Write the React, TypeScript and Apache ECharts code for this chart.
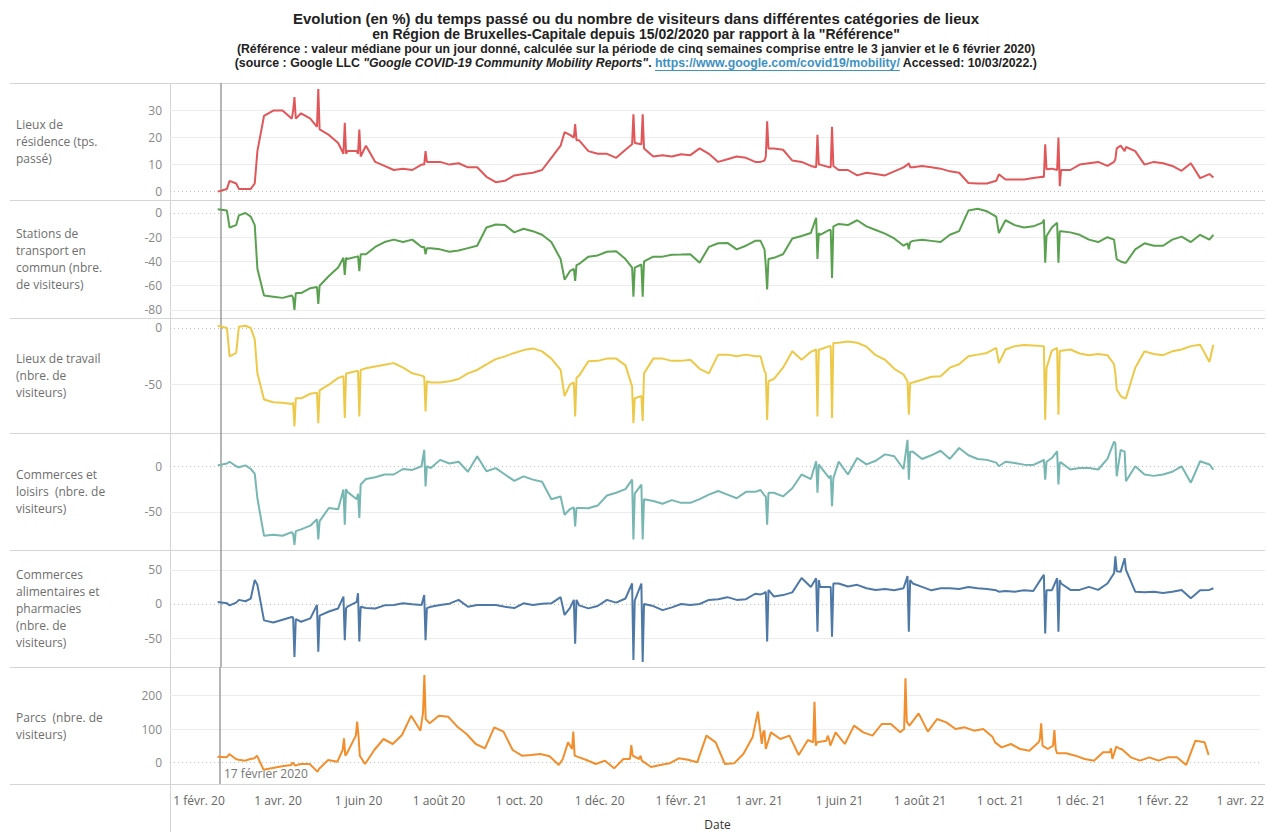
import React, { useEffect, useRef } from 'react';
import * as echarts from 'echarts';

// ---------- DATA ----------
const dates: string[] = [
  '2020-02-15', '2020-02-22', '2020-02-24', '2020-02-29', '2020-03-02', '2020-03-07', '2020-03-11', '2020-03-14', '2020-03-16', '2020-03-21',
  '2020-03-28', '2020-04-04', '2020-04-11', '2020-04-12', '2020-04-13', '2020-04-14', '2020-04-18', '2020-04-25', '2020-04-30', '2020-05-01',
  '2020-05-02', '2020-05-09', '2020-05-16', '2020-05-20', '2020-05-21', '2020-05-22', '2020-05-23', '2020-05-30', '2020-05-31', '2020-06-01',
  '2020-06-02', '2020-06-06', '2020-06-13', '2020-06-20', '2020-06-27', '2020-07-04', '2020-07-11', '2020-07-18', '2020-07-20', '2020-07-21',
  '2020-07-22', '2020-07-25', '2020-08-01', '2020-08-08', '2020-08-15', '2020-08-22', '2020-08-29', '2020-09-05', '2020-09-12', '2020-09-19',
  '2020-09-26', '2020-10-03', '2020-10-10', '2020-10-17', '2020-10-24', '2020-10-31', '2020-11-03', '2020-11-07', '2020-11-10', '2020-11-11',
  '2020-11-12', '2020-11-14', '2020-11-21', '2020-11-28', '2020-12-05', '2020-12-12', '2020-12-19', '2020-12-24', '2020-12-25', '2020-12-26',
  '2020-12-31', '2021-01-01', '2021-01-02', '2021-01-09', '2021-01-16', '2021-01-23', '2021-01-30', '2021-02-06', '2021-02-13', '2021-02-20',
  '2021-02-27', '2021-03-06', '2021-03-13', '2021-03-20', '2021-03-27', '2021-03-31', '2021-04-03', '2021-04-04', '2021-04-05', '2021-04-06',
  '2021-04-10', '2021-04-17', '2021-04-24', '2021-05-01', '2021-05-08', '2021-05-12', '2021-05-13', '2021-05-14', '2021-05-15', '2021-05-22',
  '2021-05-23', '2021-05-24', '2021-05-25', '2021-05-29', '2021-06-05', '2021-06-12', '2021-06-19', '2021-06-26', '2021-07-03', '2021-07-10',
  '2021-07-17', '2021-07-20', '2021-07-21', '2021-07-22', '2021-07-24', '2021-07-31', '2021-08-07', '2021-08-14', '2021-08-21', '2021-08-28',
  '2021-09-04', '2021-09-11', '2021-09-18', '2021-09-25', '2021-09-27', '2021-10-02', '2021-10-09', '2021-10-16', '2021-10-23', '2021-10-30',
  '2021-10-31', '2021-11-01', '2021-11-02', '2021-11-06', '2021-11-10', '2021-11-11', '2021-11-12', '2021-11-13', '2021-11-20', '2021-11-27',
  '2021-12-04', '2021-12-11', '2021-12-18', '2021-12-23', '2021-12-24', '2021-12-25', '2021-12-28', '2021-12-31', '2022-01-01', '2022-01-08',
  '2022-01-15', '2022-01-22', '2022-01-29', '2022-02-05', '2022-02-12', '2022-02-19', '2022-02-26', '2022-03-05', '2022-03-08',
];

const residence: number[] = [
  0, 1, 4, 3, 1, 1, 1, 3, 15, 28,
  30, 30, 27, 30, 35, 27, 29, 27, 24, 38,
  23, 21, 18, 14, 25.5, 14, 15, 15, 14, 23,
  13, 17, 11, 9.5, 8, 8.5, 8, 10, 10, 15,
  11, 11, 11, 10, 10.5, 9, 9, 5.5, 3.5, 4,
  6, 6.5, 7, 8, 12.5, 17, 22, 21, 20, 25,
  19, 19, 15, 14, 14, 12.5, 15.5, 17.5, 28.6, 18,
  17.5, 28.6, 16, 13, 13.5, 13, 13.8, 13.5, 16, 14,
  11, 12, 13, 12.5, 11, 11, 11.5, 13, 26, 16,
  16, 15.5, 11.5, 11, 9.5, 9, 21, 10, 10, 9,
  9, 24, 9.5, 8, 8, 6, 7, 6.5, 6, 7.5,
  9, 10, 10.5, 9, 9, 9.5, 9, 8.5, 7.5, 7,
  3.2, 3, 3, 4, 6.4, 4.5, 4.5, 4.5, 5, 5.5,
  5.4, 17.5, 8.3, 8.5, 8, 20, 2, 8, 8, 10,
  10.5, 11, 9.5, 11, 12, 16, 17, 15, 16.5, 15,
  10, 11, 10.5, 9.5, 7.7, 10.5, 5, 6.5, 5.2,
];

const transit: number[] = [
  3, 2, -12, -10, -2, 0, -3, -10, -46, -68,
  -69, -70, -68, -70, -80, -66, -66, -62, -61, -75,
  -60, -52, -45, -37, -51, -37, -38, -36, -35.7, -48,
  -34, -34, -28, -24, -22, -24, -22, -28, -28, -34,
  -29, -29, -30, -32, -31, -29, -27, -12, -9.5, -10,
  -16, -13, -15, -18, -24, -38, -55, -48, -46, -56,
  -43, -42, -36, -35, -32, -31.5, -38, -45, -69, -45,
  -42.5, -69, -40, -36, -36, -34.5, -34.3, -34, -41, -28,
  -25, -24.7, -30, -27, -23, -23, -30, -44, -63, -38,
  -37, -34, -21, -19, -16.5, -4, -38, -16.5, -18, -14,
  -14, -53.5, -11, -9, -10, -6, -11, -14, -17, -21,
  -27, -25, -30, -24, -23, -22, -23, -24, -18, -15,
  2, 3.5, 1.4, -3, -16.5, -6, -10, -12, -11, -8,
  -5.5, -41, -19, -12, -8, -41, -15, -15, -16, -18,
  -22, -24, -20, -22, -30, -38, -40, -41, -41, -30,
  -25, -27, -27, -22, -19.5, -24, -18, -22, -18,
];

const workplaces: number[] = [
  2, 0, -25, -22, 1, 2, 0, -10, -40, -63,
  -65.5, -66, -67, -66, -86.8, -62, -62, -58, -57, -84,
  -55, -50, -44, -42.6, -79.4, -40, -40, -38, -38, -78,
  -37, -35.5, -34, -32.5, -31, -35, -40, -42, -43, -73.5,
  -47, -48, -48, -47, -45, -40, -37, -32, -27.5, -25,
  -22, -19.5, -18, -20.6, -27, -37, -60, -50, -48, -78,
  -44, -42, -29.4, -29, -27, -27, -33, -51.5, -84, -62,
  -60, -82, -40, -27, -27, -29, -29, -28, -36, -40,
  -23.5, -23.5, -25, -23.5, -25, -25, -38, -40, -81, -47,
  -45, -35, -20.6, -28, -21, -19, -78, -19, -19, -16,
  -16, -79.4, -13.2, -13, -12, -13, -16.5, -24, -28, -36,
  -41, -47, -76.5, -48.5, -48, -45.6, -43, -42.6, -35, -32,
  -25, -23.5, -22, -17.6, -31, -19, -16, -15, -15.5, -16,
  -16, -81, -35.3, -20, -17.6, -76.5, -20, -20, -19, -22.5,
  -24, -23, -24, -32, -40, -54, -60, -62, -62, -35,
  -20.6, -23, -24, -20.6, -19, -16, -14.7, -30, -14.7,
];

const retail: number[] = [
  1, 3, 5, 0, -1, 1, -3, -8, -35, -76,
  -75, -76, -72, -74, -86, -71, -69, -65, -58, -80,
  -60, -45.6, -47, -25.5, -64, -25, -28, -36, -30, -56.6,
  -20, -14, -12, -9, -9, -3, -4, 0, 18, -22,
  0, -2, 7, 3, 5, -6, 11, -5.5, -2, -9,
  -16, -11, -14.6, -17, -36, -33, -53, -47, -45, -65.7,
  -45.6, -45.6, -46, -43, -32, -29, -25, -14.6, -80, -30,
  -20, -80, -36, -38, -41, -37, -40, -40, -36, -31,
  -27, -31, -35, -28, -28, -26, -32, -33, -64, -29,
  -29, -33, -24, -9, -14, 5.5, -29, 2, 0, -13,
  -10, -43.8, -13, 5, -9, 9, 2, 6, 13, 11,
  -3, 29, -14.6, 16, 16, 8, 12, 17, 8, 20,
  12, 8, 7, 4, 0, 5, 3.5, 1.8, 1.5, 6,
  7.3, -14.6, 5, 9, 16.4, -20, 4, 4, -3.6, -2,
  -2, -3.5, 8, 27, 25, -11, 18, 16, -16.4, 0,
  -9, -10.5, -9, -6, 0, -18, 5.5, 2, -3.6,
];

const grocery: number[] = [
  3, 1, -2, 2, 6, 4, 8, 35, 28, -24,
  -27, -23, -19, -20, -77.5, -22, -26, -21, -1.5, -70,
  -17, -11, -6.5, 10.8, -53, -6, -4, 3, 15.7, -55,
  -4, -6, -6.5, -2, -1.5, 1, -0.5, -1.5, 13, -53,
  -6, -4, -1.5, 0.5, 6, -4, -1.5, -1.5, -1.5, -4,
  -6, 1, -1.5, 0.5, 1, 10, -16, -6, 6, -58,
  6, -2, -6.4, -3, 6, 2, 8, 30, -82, 5,
  30, -85, 0, -3, -9, -5, 0, -1.5, 0, 6,
  7, 10, 6, 7, 15, 14, 16, 18, -55, 20.6,
  11, 13, 17, 38, 25, 37.7, -40.7, 35, 25, 25,
  25, -48, 30, 30, 25.5, 28, 23, 20.6, 22, 20,
  23, 41, -40.7, 35, 30, 25, 20, 23, 23, 22,
  25, 23, 22, 20, 18, 19, 18, 20, 19, 40,
  42.6, -43, 20, 20, 37.7, -40.7, 35, 30, 20.6, 20.6,
  25, 20.6, 30, 45, 69.6, 48, 47, 67, 50, 18,
  17, 18, 16, 18, 20.6, 8.3, 20, 20.6, 23,
];

const parks: number[] = [
  17, 15, 25, 10, 8, 5, 10, 12, 20, -22,
  -17, -12, -8, 0, -5, -10, -5, -5, -25, -28,
  -20, 7, 2, 37, 72, 20, 25, 80, 122, 80,
  20, -5, 37, 70, 55, 82, 140, 95, 150, 262,
  130, 117, 140, 137, 107, 85, 55, 42, 105, 92,
  37, 20, 22, 25, 18, -8, 10, 60, 40, 92,
  20, 17, 7, -5, 5, -18, 10, 10, 52, 20,
  10, 20, 5, -14, -8, -3, 12, 8, 0, 80,
  60, -5, -3, 25, 75, 152, 55, 90, 95, 40,
  90, 70, 80, 22, 67, 60, 182, 50, 60, 65,
  80, 70, 50, 90, 55, 110, 90, 80, 115, 115,
  90, 100, 252, 122, 110, 147, 92, 130, 120, 100,
  105, 95, 100, 77, 60, 45, 55, 40, 35, 60,
  70, 117, 50, 40, 50, 97, 40, 27, 27, 20,
  10, 5, 30, 30, 42, 10, 47, 40, 40, 15,
  5, 15, 5, 15, 15, -8, 65, 60, 22,
];

const yTicksResidence = [0, 10, 20, 30];
const yTicksTransit = [0, -20, -40, -60, -80];
const yTicksWork = [0, -50];
const yTicksRetail = [0, -50];
const yTicksGrocery = [50, 0, -50];
const yTicksParks = [200, 100, 0];

const xTickDates = [
  '2020-02-01', '2020-04-01', '2020-06-01', '2020-08-01', '2020-10-01', '2020-12-01', '2021-02-01',
  '2021-04-01', '2021-06-01', '2021-08-01', '2021-10-01', '2021-12-01', '2022-02-01', '2022-04-01',
];
const xTickLabels = [
  '1 févr. 20', '1 avr. 20', '1 juin 20', '1 août 20', '1 oct. 20', '1 déc. 20', '1 févr. 21',
  '1 avr. 21', '1 juin 21', '1 août 21', '1 oct. 21', '1 déc. 21', '1 févr. 22', '1 avr. 22',
];
const xMinDate = '2020-01-10';
const xMaxDate = '2022-04-16';
const referenceDate = '2020-02-17';
const referenceLabel = '17 février 2020';

const titleLine1 = 'Evolution (en %) du temps passé ou du nombre de visiteurs dans différentes catégories de lieux';
const titleLine2 = 'en Région de Bruxelles-Capitale depuis 15/02/2020 par rapport à la "Référence"';
const titleLine3 = '(Référence : valeur médiane pour un jour donné, calculée sur la période de cinq semaines comprise entre le 3 janvier et le 6 février 2020)';
const sourceParts = [
  { text: '(source : Google LLC ', kind: 'n' },
  { text: '"Google COVID-19 Community Mobility Reports"', kind: 'i' },
  { text: '. ', kind: 'n' },
  { text: 'https://www.google.com/covid19/mobility/', kind: 'u' },
  { text: ' Accessed: 10/03/2022.)', kind: 'n' },
];

// ---------- LAYOUT / STYLE ----------
const panels = [
  { label: 'Lieux de\nrésidence (tps.\npassé)', values: residence, ticks: yTicksResidence, color: '#e15759', min: -3.1, max: 40.2, top: 83, height: 117 },
  { label: 'Stations de\ntransport en\ncommun (nbre.\nde visiteurs)', values: transit, ticks: yTicksTransit, color: '#59a14f', min: -86.6, max: 10.7, top: 200, height: 118 },
  { label: 'Lieux de travail\n(nbre. de\nvisiteurs)', values: workplaces, ticks: yTicksWork, color: '#edc948', min: -92.6, max: 8.8, top: 318, height: 115 },
  { label: 'Commerces et\nloisirs  (nbre. de\nvisiteurs)', values: retail, ticks: yTicksRetail, color: '#76b7b2', min: -91.6, max: 36.4, top: 433, height: 117 },
  { label: 'Commerces\nalimentaires et\npharmacies\n(nbre. de\nvisiteurs)', values: grocery, ticks: yTicksGrocery, color: '#4e79a7', min: -92.2, max: 79, top: 550, height: 117 },
  { label: 'Parcs  (nbre. de\nvisiteurs)', values: parks, ticks: yTicksParks, color: '#f28e2b', min: -65, max: 286, top: 667, height: 117 },
];

const PLOT_LEFT = 170;
const PLOT_RIGHT = 1265;
const SANS = '"Open Sans", "Noto Sans", sans-serif';
const TITLE_FONT = '"Liberation Sans", Arial, sans-serif';

const parseDay = (s: string) => {
  const [y, m, d] = s.split('-').map(Number);
  return new Date(y, m - 1, d).getTime();
};

export default function App() {
  const ref = useRef<HTMLDivElement>(null);

  useEffect(() => {
    if (!ref.current) return;
    const chart = echarts.init(ref.current, undefined, { renderer: 'svg' });

    const canvas = document.createElement('canvas');
    const ctx = canvas.getContext('2d')!;
    const measure = (t: string, font: string) => {
      ctx.font = font;
      return ctx.measureText(t).width;
    };

    const xMin = parseDay(xMinDate);
    const xMax = parseDay(xMaxDate);
    const xTicks = xTickDates.map(parseDay);
    const refX = parseDay(referenceDate);
    const dayTs = dates.map(parseDay);

    const grids = panels.map((p) => ({ left: PLOT_LEFT, width: PLOT_RIGHT - PLOT_LEFT, top: p.top, height: p.height }));
    const xAxes = panels.map((p, i) => ({
      gridIndex: i,
      type: 'value',
      min: xMin,
      max: xMax,
      show: i === panels.length - 1,
      axisLine: { show: false },
      axisTick: { show: false },
      splitLine: { show: false },
      axisLabel: {
        customValues: xTicks,
        formatter: (v: number) => {
          const k = xTicks.findIndex((t) => Math.abs(t - v) < 43200000);
          return k >= 0 ? xTickLabels[k] : '';
        },
        color: '#666',
        fontSize: 12,
        fontFamily: SANS,
        margin: 10,
        hideOverlap: false,
      },
    }));
    const yAxes = panels.map((p, i) => ({
      gridIndex: i,
      type: 'value',
      min: p.min,
      max: p.max,
      axisLine: { show: false },
      axisTick: { show: false },
      splitLine: { show: false },
      axisLabel: {
        customValues: p.ticks,
        color: '#888',
        fontSize: 12,
        fontFamily: SANS,
        margin: 8,
      },
    }));
    const series = panels.map((p, i) => ({
      type: 'line',
      xAxisIndex: i,
      yAxisIndex: i,
      z: 3,
      data: dayTs.map((t, k) => [t, p.values[k]]),
      showSymbol: false,
      symbol: 'none',
      lineStyle: { color: p.color, width: 2 },
      itemStyle: { color: p.color },
      emphasis: { disabled: true },
      markLine: {
        silent: true,
        z: 1,
        symbol: 'none',
        label: { show: false },
        data: [
          ...p.ticks.filter((t) => t !== 0).map((t) => ({ yAxis: t, lineStyle: { color: '#ececec', type: 'solid', width: 1 } })),
          { yAxis: 0, lineStyle: { color: '#bdbdbd', type: [1, 3], width: 1 } },
          { xAxis: refX, lineStyle: { color: '#9c9c9c', type: 'solid', width: 1.5 } },
        ],
      },
    }));

    const graphic: any[] = [];
    const seps = [...panels.map((p) => p.top), panels[panels.length - 1].top + panels[panels.length - 1].height];
    seps.forEach((y) => {
      graphic.push({ type: 'line', silent: true, z: 0, shape: { x1: 10, y1: y + 0.5, x2: PLOT_RIGHT, y2: y + 0.5 }, style: { stroke: '#d4d4d4', lineWidth: 1 } });
    });
    graphic.push({ type: 'line', silent: true, z: 0, shape: { x1: PLOT_LEFT + 0.5, y1: 83, x2: PLOT_LEFT + 0.5, y2: 832 }, style: { stroke: '#d4d4d4', lineWidth: 1 } });

    panels.forEach((p) => {
      graphic.push({
        type: 'text', silent: true, x: 16, y: p.top + p.height / 2,
        style: { text: p.label, font: `12px ${SANS}`, fill: '#6e6e6e', lineHeight: 17, align: 'left', verticalAlign: 'middle', textAlign: 'left', textVerticalAlign: 'middle' },
      });
    });

    graphic.push({
      type: 'text', silent: true, x: 224, y: 773,
      style: { text: referenceLabel, font: `12px ${SANS}`, fill: '#777', align: 'left', verticalAlign: 'middle', textAlign: 'left', textVerticalAlign: 'middle' },
    });
    graphic.push({
      type: 'text', silent: true, x: (PLOT_LEFT + PLOT_RIGHT) / 2, y: 824,
      style: { text: 'Date', font: `12px ${SANS}`, fill: '#333', align: 'center', verticalAlign: 'middle', textAlign: 'center', textVerticalAlign: 'middle' },
    });

    const cx = 636;
    const titleRows = [
      { text: titleLine1, font: `bold 15px ${TITLE_FONT}`, y: 18 },
      { text: titleLine2, font: `bold 14px ${TITLE_FONT}`, y: 34 },
      { text: titleLine3, font: `bold 12.3px ${TITLE_FONT}`, y: 48.5 },
    ];
    titleRows.forEach((r) => {
      graphic.push({
        type: 'text', silent: true, x: cx, y: r.y,
        style: { text: r.text, font: r.font, fill: '#222', align: 'center', verticalAlign: 'middle', textAlign: 'center', textVerticalAlign: 'middle' },
      });
    });
    const fonts: Record<string, string> = {
      n: `bold 12.3px ${TITLE_FONT}`,
      i: `italic bold 12.3px ${TITLE_FONT}`,
      u: `bold 12.3px ${TITLE_FONT}`,
    };
    const widths = sourceParts.map((s) => measure(s.text, fonts[s.kind]));
    const total = widths.reduce((a, b) => a + b, 0);
    let xCur = cx - total / 2;
    const y4 = 63;
    sourceParts.forEach((s, k) => {
      graphic.push({
        type: 'text', silent: true, x: xCur, y: y4,
        style: { text: s.text, font: fonts[s.kind], fill: s.kind === 'u' ? '#3d91c4' : '#222', align: 'left', verticalAlign: 'middle', textAlign: 'left', textVerticalAlign: 'middle' },
      });
      if (s.kind === 'u') {
        graphic.push({ type: 'line', silent: true, shape: { x1: xCur, y1: y4 + 7.5, x2: xCur + widths[k], y2: y4 + 7.5 }, style: { stroke: '#3d91c4', lineWidth: 1 } });
      }
      xCur += widths[k];
    });

    chart.setOption({
      animation: false,
      backgroundColor: '#ffffff',
      grid: grids,
      xAxis: xAxes,
      yAxis: yAxes,
      series,
      graphic,
    } as any);

    return () => chart.dispose();
  }, []);

  return <div ref={ref} style={{ position: 'absolute', left: 0, top: 0, width: 1267, height: 832, background: '#fff' }} />;
}
